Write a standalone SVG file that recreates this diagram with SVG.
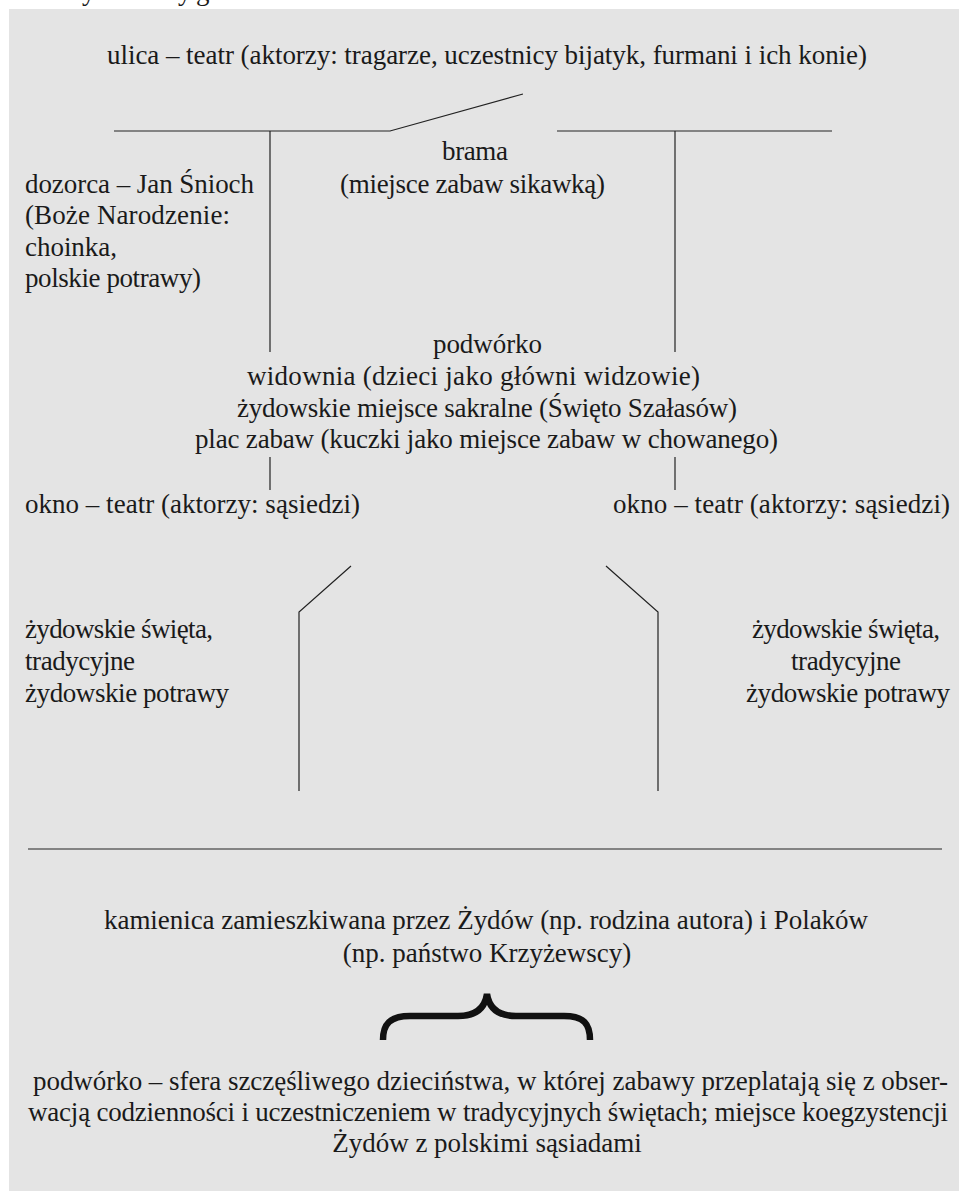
<svg xmlns="http://www.w3.org/2000/svg" width="959" height="1191" viewBox="0 0 959 1191">
  <style>
    text { font-size: 27px; fill: #1a1a1a; }
    .mid { text-anchor: middle; }
    .ln { stroke: #222; stroke-width: 1.2; fill: none; }
    .brace { stroke: #111; stroke-width: 6.5; fill: none; stroke-linecap: butt; }
  </style>

  <!-- page -->
  <rect x="0" y="0" width="959" height="1191" fill="#ffffff"/>
  <!-- descenders of the preceding line, cut by the page edge -->
  <g id="cut-line" font-family="'Liberation Serif', 'DejaVu Serif', serif">
    <text x="82" y="0">y</text>
    <text x="178" y="0">y</text>
    <text x="196" y="0">g</text>
  </g>
  <!-- shaded panel -->
  <rect x="9" y="9" width="950" height="1182" fill="#e4e4e4"/>

  <!-- connectors -->
  <g id="connectors">
    <polyline class="ln" points="114,131 390,131 523,94"/>
    <line class="ln" x1="557" y1="131" x2="832" y2="131"/>
    <line class="ln" x1="270" y1="131" x2="270" y2="352"/>
    <line class="ln" x1="675" y1="131" x2="675" y2="352"/>
    <line class="ln" x1="270" y1="457" x2="270" y2="490"/>
    <line class="ln" x1="675" y1="457" x2="675" y2="490"/>
    <polyline class="ln" points="351,566 299,612 299,791"/>
    <polyline class="ln" points="606,566 658,612 658,791"/>
    <line class="ln" x1="28" y1="849" x2="942" y2="849"/>
    <path class="brace" d="M383,1040 C383,1024 390,1016 410,1016 L458,1016 C476,1016 485,1008 487,994 C489,1008 498,1016 516,1016 L564,1016 C584,1016 590,1024 590,1040"/>
  </g>

  <g id="labels" font-family="'Liberation Serif', 'DejaVu Serif', serif">
    <g id="ulica">
      <text x="107" y="64" textLength="760" lengthAdjust="spacing">ulica – teatr (aktorzy: tragarze, uczestnicy bijatyk, furmani i ich konie)</text>
    </g>

    <g id="brama">
      <text x="442" y="160" textLength="66" lengthAdjust="spacing">brama</text>
      <text x="340" y="193" textLength="265" lengthAdjust="spacing">(miejsce zabaw sikawką)</text>
    </g>

    <g id="dozorca">
      <text x="25" y="193" textLength="229" lengthAdjust="spacing">dozorca – Jan Śnioch</text>
      <text x="25" y="224" textLength="205" lengthAdjust="spacing">(Boże Narodzenie:</text>
      <text x="25" y="256" textLength="92" lengthAdjust="spacing">choinka,</text>
      <text x="25" y="287" textLength="176" lengthAdjust="spacing">polskie potrawy)</text>
    </g>

    <g id="podworko">
      <text x="433" y="353" textLength="109" lengthAdjust="spacing">podwórko</text>
      <text x="247" y="385" textLength="453" lengthAdjust="spacing">widownia (dzieci jako główni widzowie)</text>
      <text x="237" y="417" textLength="500" lengthAdjust="spacing">żydowskie miejsce sakralne (Święto Szałasów)</text>
      <text x="195" y="448" textLength="583" lengthAdjust="spacing">plac zabaw (kuczki jako miejsce zabaw w chowanego)</text>
    </g>

    <g id="okno-lewe">
      <text x="25" y="513" textLength="335" lengthAdjust="spacing">okno – teatr (aktorzy: sąsiedzi)</text>
    </g>
    <g id="okno-prawe">
      <text x="613" y="513" textLength="337" lengthAdjust="spacing">okno – teatr (aktorzy: sąsiedzi)</text>
    </g>

    <g id="swieta-lewe">
      <text x="25" y="638" textLength="188" lengthAdjust="spacing">żydowskie święta,</text>
      <text x="25" y="670" textLength="110" lengthAdjust="spacing">tradycyjne</text>
      <text x="25" y="702" textLength="204" lengthAdjust="spacing">żydowskie potrawy</text>
    </g>
    <g id="swieta-prawe">
      <text x="752" y="638" textLength="188" lengthAdjust="spacing">żydowskie święta,</text>
      <text x="791" y="670" textLength="110" lengthAdjust="spacing">tradycyjne</text>
      <text x="746" y="702" textLength="204" lengthAdjust="spacing">żydowskie potrawy</text>
    </g>

    <g id="kamienica">
      <text x="104" y="929" textLength="764" lengthAdjust="spacing">kamienica zamieszkiwana przez Żydów (np. rodzina autora) i Polaków</text>
      <text class="mid" x="487" y="962">(np. państwo Krzyżewscy)</text>
    </g>

    <g id="podsumowanie">
      <text x="33" y="1090" textLength="915" lengthAdjust="spacing">podwórko – sfera szczęśliwego dzieciństwa, w której zabawy przeplatają się z obser-</text>
      <text x="28" y="1121" textLength="920" lengthAdjust="spacing">wacją codzienności i uczestniczeniem w tradycyjnych świętach; miejsce koegzystencji</text>
      <text class="mid" x="487" y="1152">Żydów z polskimi sąsiadami</text>
    </g>
  </g>
</svg>
